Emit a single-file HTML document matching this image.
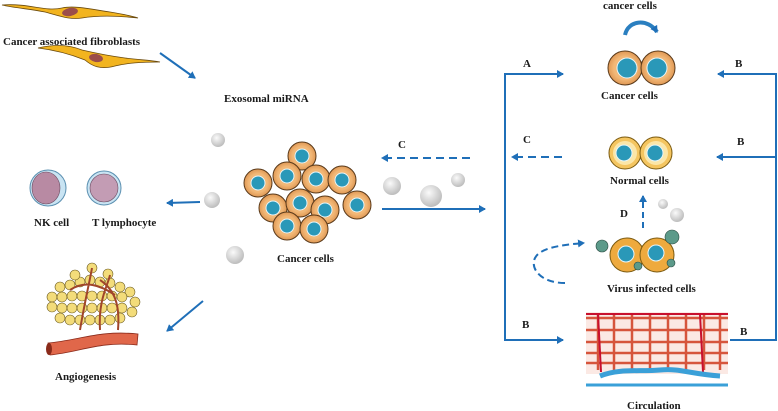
<!DOCTYPE html>
<html><head><meta charset="utf-8"><style>
html,body{margin:0;padding:0;background:#fff;}
svg{display:block;}
text{font-family:"Liberation Serif",serif;font-weight:bold;font-size:11px;fill:#1a1a1a;}
</style></head><body>
<svg width="778" height="411" viewBox="0 0 778 411" xmlns="http://www.w3.org/2000/svg">
<defs>
<marker id="ah" markerWidth="8" markerHeight="8" refX="6" refY="4" orient="auto" markerUnits="userSpaceOnUse"><path d="M0,0 L7,4 L0,8 Z" fill="#1f6fb8"/></marker>
<radialGradient id="ves" cx="40%" cy="35%" r="65%"><stop offset="0" stop-color="#fafafa"/><stop offset="1" stop-color="#bdbdbd"/></radialGradient>
<radialGradient id="cell" cx="50%" cy="50%" r="55%"><stop offset="0.6" stop-color="#f2b877"/><stop offset="1" stop-color="#d98e4a"/></radialGradient>
</defs>

<!-- fibroblasts -->
<path d="M2,5 C30,3 45,12 62,8 C75,5 95,10 110,12 C122,14 132,16 138,18 C120,16 100,15 82,18 C70,20 60,16 45,12 C30,9 15,8 2,5Z" fill="#f2b41f" stroke="#6b4a0c" stroke-width="0.8"/>
<ellipse cx="70" cy="12" rx="8" ry="4" fill="#9b4d4a" transform="rotate(-10 70 12)"/>
<path d="M38,48 C55,44 70,45 82,50 C95,53 110,56 125,58 C140,60 150,60 160,62 C140,62 128,63 115,66 C100,70 92,66 85,60 C70,54 55,50 38,48Z" fill="#f2b41f" stroke="#6b4a0c" stroke-width="0.8"/>
<ellipse cx="96" cy="58" rx="7" ry="4" fill="#9b4d4a" transform="rotate(10 96 58)"/>
<text x="3" y="45">Cancer associated fibroblasts</text>

<!-- arrows left -->
<line x1="160" y1="53" x2="195" y2="78" stroke="#1f6fb8" stroke-width="2" marker-end="url(#ah)"/>
<text x="224" y="102">Exosomal miRNA</text>
<line x1="200" y1="202" x2="167" y2="203" stroke="#1f6fb8" stroke-width="2" marker-end="url(#ah)"/>
<line x1="203" y1="301" x2="167" y2="331" stroke="#1f6fb8" stroke-width="2" marker-end="url(#ah)"/>

<!-- vesicles -->
<g fill="url(#ves)">
<circle cx="218" cy="140" r="7"/><circle cx="212" cy="200" r="8"/><circle cx="235" cy="255" r="9"/>
<circle cx="392" cy="186" r="9"/><circle cx="431" cy="196" r="11"/><circle cx="458" cy="180" r="7"/>
<circle cx="663" cy="204" r="5"/><circle cx="677" cy="215" r="7"/>
</g>

<!-- NK / T -->
<circle cx="48" cy="188" r="18" fill="#c9e4f3" stroke="#5a8fb0"/><ellipse cx="46" cy="188" rx="14" ry="16" fill="#b88aa3" stroke="#6b4a60" stroke-width="0.6"/>
<circle cx="104" cy="188" r="17" fill="#c9e4f3" stroke="#5a8fb0"/><circle cx="104" cy="188" r="14" fill="#c39cb4" stroke="#6b4a60" stroke-width="0.6"/>
<text x="34" y="226">NK cell</text><text x="92" y="226">T lymphocyte</text>

<!-- cancer cluster -->
<g stroke="#5a3a1a" stroke-width="1">
<g fill="url(#cell)">
<circle cx="302" cy="156" r="14"/><circle cx="258" cy="183" r="14"/><circle cx="287" cy="176" r="14"/><circle cx="316" cy="179" r="14"/><circle cx="342" cy="180" r="14"/>
<circle cx="273" cy="208" r="14"/><circle cx="300" cy="203" r="14"/><circle cx="325" cy="210" r="14"/><circle cx="357" cy="205" r="14"/><circle cx="287" cy="226" r="14"/><circle cx="314" cy="229" r="14"/>
</g>
<g fill="#2a98b8" stroke="#e6f4f8" stroke-width="1">
<circle cx="302" cy="156" r="7"/><circle cx="258" cy="183" r="7"/><circle cx="287" cy="176" r="7"/><circle cx="316" cy="179" r="7"/><circle cx="342" cy="180" r="7"/>
<circle cx="273" cy="208" r="7"/><circle cx="300" cy="203" r="7"/><circle cx="325" cy="210" r="7"/><circle cx="357" cy="205" r="7"/><circle cx="287" cy="226" r="7"/><circle cx="314" cy="229" r="7"/>
</g></g>
<text x="277" y="262">Cancer cells</text>

<!-- angiogenesis -->
<g fill="#f3dc7a" stroke="#6b5a20" stroke-width="0.6">
<circle cx="60" cy="287" r="5"/><circle cx="70" cy="285" r="5"/><circle cx="80" cy="282" r="5"/><circle cx="90" cy="280" r="5"/><circle cx="100" cy="282" r="5"/><circle cx="110" cy="283" r="5"/><circle cx="120" cy="287" r="5"/><circle cx="130" cy="292" r="5"/>
<circle cx="52" cy="297" r="5"/><circle cx="62" cy="297" r="5"/><circle cx="72" cy="296" r="5"/><circle cx="82" cy="296" r="5"/><circle cx="92" cy="296" r="5"/><circle cx="102" cy="296" r="5"/><circle cx="112" cy="296" r="5"/><circle cx="122" cy="297" r="5"/><circle cx="135" cy="302" r="5"/>
<circle cx="52" cy="307" r="5"/><circle cx="62" cy="308" r="5"/><circle cx="72" cy="308" r="5"/><circle cx="82" cy="308" r="5"/><circle cx="92" cy="308" r="5"/><circle cx="102" cy="308" r="5"/><circle cx="112" cy="308" r="5"/><circle cx="122" cy="308" r="5"/><circle cx="132" cy="312" r="5"/>
<circle cx="60" cy="318" r="5"/><circle cx="70" cy="320" r="5"/><circle cx="80" cy="320" r="5"/><circle cx="90" cy="320" r="5"/><circle cx="100" cy="320" r="5"/><circle cx="110" cy="320" r="5"/><circle cx="120" cy="318" r="5"/>
<circle cx="92" cy="268" r="5"/><circle cx="75" cy="275" r="5"/><circle cx="108" cy="274" r="5"/>
</g>
<path d="M80,330 C85,300 90,280 92,268 M100,330 C98,300 108,285 110,275 M118,330 C120,305 115,290 100,280 M70,290 C85,280 100,285 115,295" stroke="#a0452a" stroke-width="2" fill="none"/>
<path d="M48,343 C80,340 100,330 138,334 L137,345 C100,341 80,352 50,355 Z" fill="#e0674a" stroke="#8a2a1a" stroke-width="0.8"/>
<ellipse cx="49" cy="349" rx="3" ry="6" fill="#8a2a1a"/>
<text x="55" y="380">Angiogenesis</text>

<!-- middle arrows -->
<line x1="470" y1="158" x2="382" y2="158" stroke="#1f6fb8" stroke-width="2" stroke-dasharray="8,5" marker-end="url(#ah)"/>
<text x="398" y="148">C</text>
<line x1="382" y1="209" x2="485" y2="209" stroke="#1f6fb8" stroke-width="2" marker-end="url(#ah)"/>

<!-- right frame -->
<g stroke="#1f6fb8" stroke-width="2" fill="none">
<polyline points="562,74 505,74 505,340 562,340"/>
<polyline points="720,74 776,74 776,340 730,340"/>
<line x1="776" y1="157" x2="720" y2="157"/>
</g>
<g stroke="#1f6fb8" stroke-width="2">
<line x1="540" y1="74" x2="563" y2="74" marker-end="url(#ah)"/>
<line x1="540" y1="340" x2="563" y2="340" marker-end="url(#ah)"/>
<line x1="740" y1="74" x2="718" y2="74" marker-end="url(#ah)"/>
<line x1="740" y1="157" x2="717" y2="157" marker-end="url(#ah)"/>
</g>
<text x="523" y="67">A</text><text x="735" y="67">B</text><text x="737" y="145">B</text>
<text x="522" y="328">B</text><text x="740" y="335">B</text>
<line x1="562" y1="157" x2="512" y2="157" stroke="#1f6fb8" stroke-width="2" stroke-dasharray="8,5" marker-end="url(#ah)"/>
<text x="523" y="143">C</text>
<line x1="643" y1="228" x2="643" y2="196" stroke="#1f6fb8" stroke-width="2" stroke-dasharray="6,4" marker-end="url(#ah)"/>
<text x="620" y="217">D</text>
<path d="M565,283 C540,283 530,268 535,258 C540,248 560,245 584,243" stroke="#1f6fb8" stroke-width="2" stroke-dasharray="7,4" fill="none" marker-end="url(#ah)"/>

<!-- top cancer cells -->
<text x="603" y="9">cancer cells</text>
<path d="M625,35 C628,20 648,18 657,32" stroke="#2a7fc0" stroke-width="4" fill="none" marker-end="url(#ah)"/>
<g stroke="#5a3a1a" stroke-width="1" fill="url(#cell)"><circle cx="625" cy="68" r="17"/><circle cx="658" cy="68" r="17"/></g>
<g fill="#2a98b8" stroke="#e6f4f8"><circle cx="627" cy="68" r="10"/><circle cx="657" cy="68" r="10"/></g>
<text x="601" y="99">Cancer cells</text>

<!-- normal -->
<g stroke="#7a5a10" stroke-width="1" fill="#f4c560"><circle cx="625" cy="153" r="16"/><circle cx="656" cy="153" r="16"/></g>
<g fill="#fbe6a8"><circle cx="625" cy="153" r="12"/><circle cx="656" cy="153" r="12"/></g>
<g fill="#2a98b8" stroke="#e6f4f8"><circle cx="624" cy="153" r="8"/><circle cx="655" cy="153" r="8"/></g>
<text x="610" y="184">Normal cells</text>

<!-- virus infected -->
<g stroke="#7a5a10" stroke-width="1" fill="#eeaa3e"><circle cx="627" cy="255" r="17"/><circle cx="657" cy="255" r="17"/></g>
<g fill="#2a98b8" stroke="#e6f4f8"><circle cx="626" cy="254" r="8"/><circle cx="656" cy="253" r="8"/></g>
<g fill="#5c9a8a" stroke="#2a4a40" stroke-width="0.6"><circle cx="602" cy="246" r="6"/><circle cx="672" cy="237" r="7"/><circle cx="638" cy="266" r="4"/><circle cx="671" cy="263" r="4"/></g>
<text x="607" y="292">Virus infected cells</text>

<!-- circulation -->
<rect x="586" y="312" width="142" height="62" fill="#fbe9e4"/>
<g stroke="#d6553c" stroke-width="2.5" fill="none">
<line x1="586" y1="318" x2="728" y2="318"/><line x1="586" y1="330" x2="728" y2="330"/><line x1="586" y1="342" x2="728" y2="342"/><line x1="586" y1="353" x2="728" y2="353"/><line x1="586" y1="363" x2="728" y2="363"/>
<line x1="598" y1="315" x2="598" y2="370"/><line x1="614" y1="315" x2="614" y2="370"/><line x1="632" y1="315" x2="632" y2="370"/><line x1="650" y1="315" x2="650" y2="370"/><line x1="668" y1="315" x2="668" y2="370"/><line x1="686" y1="315" x2="686" y2="370"/><line x1="704" y1="315" x2="704" y2="370"/><line x1="720" y1="315" x2="720" y2="370"/>
</g>
<line x1="586" y1="314" x2="728" y2="314" stroke="#c8102e" stroke-width="2"/>
<line x1="598" y1="314" x2="601" y2="372" stroke="#c8102e" stroke-width="2"/><line x1="700" y1="314" x2="703" y2="372" stroke="#c8102e" stroke-width="2"/>
<path d="M600,376 C620,368 640,372 660,370 C680,368 690,374 720,376" stroke="#3aa0d8" stroke-width="5" fill="none"/>
<line x1="586" y1="385" x2="728" y2="385" stroke="#3aa0d8" stroke-width="3"/>
<text x="627" y="409">Circulation</text>
</svg>
</body></html>
